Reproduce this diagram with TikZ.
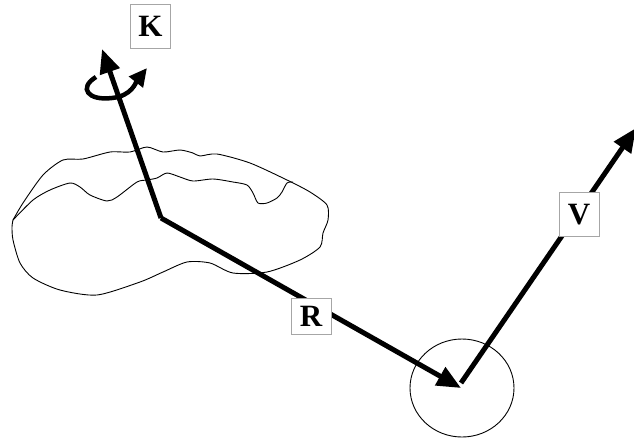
\documentclass[tikz,border=0pt]{standalone}
\usepackage{fontspec}
\setmainfont{Liberation Serif}
\usetikzlibrary{arrows.meta,shapes.geometric}
\begin{document}
\begin{tikzpicture}[x=1pt,y=-1pt,
  vec/.style={line width=5pt,-{Triangle[length=24pt,width=20pt]}},
  spin/.style={line width=4.5pt,-{Triangle[length=18pt,width=17pt]}},
  outline/.style={line width=0.9pt,line join=round},
  lbl/.style={draw=black!35,fill=white,line width=0.9pt,inner sep=0pt,
    minimum width=40pt,minimum height=40pt,
    font=\fontsize{31}{31}\selectfont\bfseries}]
\useasboundingbox (0,0) rectangle (634,440);

% rigid body: outer rim
\draw[outline] plot[smooth,tension=0.45] coordinates {
  (13,220) (23,203) (43,175) (63,160) (83,159) (110,152) (130,152)
  (147,147) (163,152) (180,150) (193,153) (200,156) (217,154) (250,163)
  (287,180) (310,192) (327,205) (328,220) (323,233) (320,247) (300,260)
  (267,272) (233,273) (210,263) (187,262) (163,272) (140,282) (97,295)
  (60,290) (33,278) (20,263) (13,240) (12,227) (13,220)};
% rigid body: inner ridge
\draw[outline] plot[smooth,tension=0.45] coordinates {
  (13,220) (33,200) (50,190) (70,183) (80,187) (90,195) (107,201)
  (117,197) (137,182) (147,180) (157,178) (167,173) (180,177) (193,181)
  (213,179) (233,182) (247,185) (253,193) (258,203) (267,203) (277,198)
  (282,192) (287,183) (293,182)};

% key points
\coordinate (O) at (161,218);
\coordinate (Ktip) at (102,49);
\coordinate (Rtip) at (461,388);
\coordinate (Vbase) at (461,383);
\coordinate (Vtip) at (636,128);
\coordinate (spinA) at (96,77);
\coordinate (spinB) at (147,68);

% particle neighbourhood
\node[draw,line width=0.9pt,ellipse,inner sep=0pt,
  minimum width=104pt,minimum height=98pt] (C) at (462,388) {};

% rotation about the spin axis
\draw[spin] (spinA) .. controls (78,88) and (88,101) .. (112,98)
  .. controls (132,96) and (136,82) .. (spinB);

% vectors
\draw[vec] (O) -- (Ktip);
\draw[vec] (O) -- (Rtip);
\draw[vec] (Vbase) -- (Vtip);

% labels
\node[lbl,minimum height=44pt] (K) at (150.5,26) {K};
\node[lbl,minimum height=36pt] (R) at (311,316.5) {R};
\node[lbl,minimum height=44pt] (V) at (579,214.5) {V};
\end{tikzpicture}
\end{document}
